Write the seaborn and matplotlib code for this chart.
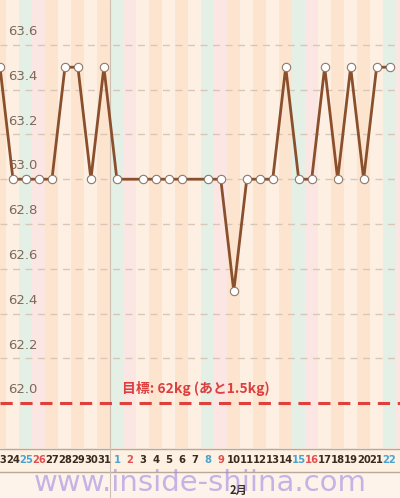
import matplotlib
matplotlib.use("Agg")
import matplotlib.pyplot as plt
import seaborn as sns
import numpy as np
import pandas as pd

sns.set_style("white")
plt.rcParams['font.family'] = ['Noto Sans CJK JP', 'DejaVu Sans']

day_labels = ["23","24","25","26","27","28","29","30","31",
              "1","2","3","4","5","6","7","8","9","10","11","12","13","14","15","16","17","18","19","20","21","22"]
weekdays = ["Thu","Fri","Sat","Sun","Mon","Tue","Wed","Thu","Fri",
            "Sat","Sun","Mon","Tue","Wed","Thu","Fri","Sat","Sun","Mon","Tue","Wed","Thu","Fri","Sat","Sun","Mon","Tue","Wed","Thu","Fri","Sat"]
weights = [63.5,63.0,63.0,63.0,63.0,63.5,63.5,63.0,63.5,
           63.0,np.nan,63.0,63.0,63.0,63.0,np.nan,63.0,63.0,62.5,63.0,63.0,63.0,63.5,63.0,63.0,63.5,63.0,63.5,63.0,63.5,63.5]
goal = 62.0
yticks = [62.0,62.2,62.4,62.6,62.8,63.0,63.2,63.4,63.6]

df = pd.DataFrame({"i": np.arange(len(weights)), "w": weights}).dropna()

fig = plt.figure(figsize=(4, 4.98), dpi=100)
fig.patch.set_facecolor("#fdf3ea")
ax = fig.add_axes([0, 50/498, 1, 448/498])
xmin, xmax = 0.0, 30.8
ax.set_xlim(xmin, xmax)
ax.set_ylim(61.8, 63.8)

for k in range(-1, 32):
    wd = weekdays[k] if 0 <= k < 31 else ("Wed" if k < 0 else "Sun")
    if wd == "Sat":
        c = "#e4efe6"
    elif wd == "Sun":
        c = "#fce6e4"
    else:
        c = "#fde4cf" if k % 2 == 0 else "#fdf0e2"
    ax.axvspan(k-0.5, k+0.5, color=c, lw=0, zorder=0)
ax.axvline(8.5, color="#cdbfb2", lw=0.8, zorder=1)

for y in yticks:
    if y != goal:
        ax.axhline(y, color="#d8c7b8", lw=1, ls=(0, (5, 4)), zorder=1)
    ax.text(0.02, y + 0.03, f"{y:.1f}", transform=ax.get_yaxis_transform(),
            fontsize=9.5, color="#7a6a5c", va="bottom", ha="left", family="DejaVu Sans")

ax.axhline(goal, color="#e0403c", lw=2.2, ls=(0, (4, 2.5)), zorder=2)
ax.text(9.4, goal + 0.03, "目標: 62kg (あと1.5kg)", color="#dd3e3e", fontsize=10,
        fontweight="bold", va="bottom", ha="left")

sns.lineplot(data=df, x="i", y="w", ax=ax, color="#8a4f2c", lw=2, zorder=3,
             marker="o", markersize=6, markerfacecolor="white",
             markeredgecolor="#8c7a6c", markeredgewidth=0.8)
ax.set_axis_off()

lab = fig.add_axes([0, 0, 1, 50/498])
lab.set_xlim(xmin, xmax)
lab.set_ylim(0, 50)
lab.axhspan(26, 50, color="#fdf1e4", lw=0)
lab.axhline(49.5, color="#b9a99b", lw=1)
lab.axhline(26, color="#b9a99b", lw=1)
lab.axvline(8.5, color="#cdbfb2", lw=0.8)
for k, (t, wd) in enumerate(zip(day_labels, weekdays)):
    c = "#4aa3d0" if wd == "Sat" else ("#e05050" if wd == "Sun" else "#3a2a20")
    lab.text(k, 38, t, ha="center", va="center", fontsize=7.2, color=c,
             fontweight="bold", family="DejaVu Sans")
lab.text(18.4, 8, "2月", ha="center", va="center", fontsize=8, fontweight="bold", color="#3a2a20")
lab.set_axis_off()

fig.text(0.5, 0.03, "www.inside-shiina.com", ha="center", va="center", fontsize=21,
         color="#9a7ee0", alpha=0.55, family="DejaVu Sans")

fig.savefig("out.png", dpi=100)
